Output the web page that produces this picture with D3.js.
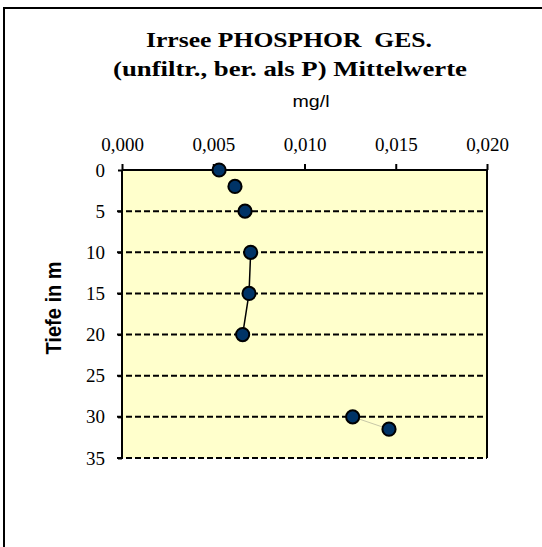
<!DOCTYPE html>
<html>
<head>
<meta charset="utf-8">
<script src="https://cdn.jsdelivr.net/npm/d3@7"></script>
<style>
  body { margin: 0; background: #fff; }
  svg { display: block; }
</style>
</head>
<body>
<script>
// Irrsee Phosphor gesamt, Mittelwerte je Tiefe
const depths = [0, 2, 5, 10, 15, 20, 30, 31.5];
const values = [0.00532, 0.00619, 0.00674, 0.00705, 0.00696, 0.00661, 0.01264, 0.01463];
// which neighbouring points are joined by a line
const solidLink = [10, 15, 20];
const lightLink = [30, 31.5];
const xTicks = [0, 0.005, 0.010, 0.015, 0.020];
const yTicks = [0, 5, 10, 15, 20, 25, 30, 35];
const titleLines = ["Irrsee PHOSPHOR  GES.", "(unfiltr., ber. als P) Mittelwerte"];
const unitLabel = "mg/l";
const yLabel = "Tiefe in m";

const W = 542, H = 547;
const svg = d3.select("body").append("svg").attr("width", W).attr("height", H);

// outer chart frame (cut off right and bottom)
svg.append("path")
  .attr("d", "M4," + H + " L4,8 L" + W + ",8")
  .attr("fill", "none").attr("stroke", "#000").attr("stroke-width", 2);

const x = d3.scaleLinear().domain([0, 0.02]).range([122, 487]);
const y = d3.scaleLinear().domain([0, 35]).range([170, 458]);

const pts = depths.map((d, i) => ({depth: d, val: values[i]}));

// plot background
svg.append("rect")
  .attr("x", x(0)).attr("y", y(0))
  .attr("width", x(0.02) - x(0)).attr("height", y(35) - y(0))
  .attr("fill", "#ffffcc");

// horizontal dashed grid
svg.append("g").selectAll("line")
  .data(yTicks.filter(t => t > 0))
  .join("line")
  .attr("x1", x(0) - 5).attr("x2", x(0.02))
  .attr("y1", d => y(d)).attr("y2", d => y(d))
  .attr("stroke", "#000").attr("stroke-width", 2)
  .attr("stroke-dasharray", "6,3");

// y axis
const yAxis = svg.append("g")
  .attr("transform", "translate(" + x(0) + ",0)")
  .call(d3.axisLeft(y).tickValues(yTicks).tickSize(4).tickPadding(13).tickFormat(d3.format("d")));
yAxis.select(".domain").attr("stroke-width", 2).attr("d", "M0," + y(0) + "V" + y(35));
yAxis.selectAll(".tick line").attr("stroke-width", 2);
yAxis.selectAll("text")
  .attr("font-family", "'Liberation Serif', 'Times New Roman', serif")
  .attr("font-size", 19).attr("fill", "#000");

// x axis on top
const xAxis = svg.append("g")
  .attr("transform", "translate(0," + y(0) + ")")
  .call(d3.axisTop(x).tickValues(xTicks).tickSize(6).tickPadding(13)
    .tickFormat(d => d3.format(".3f")(d).replace(".", ",")));
xAxis.select(".domain").attr("stroke-width", 2).attr("d", "M" + x(0) + ",0H" + x(0.02));
xAxis.selectAll(".tick line").attr("stroke-width", 2);
xAxis.selectAll("text")
  .attr("font-family", "'Liberation Serif', 'Times New Roman', serif")
  .attr("font-size", 19).attr("fill", "#000");

// right border
svg.append("line")
  .attr("x1", x(0.02)).attr("x2", x(0.02))
  .attr("y1", y(0)).attr("y2", y(35))
  .attr("stroke", "#000").attr("stroke-width", 2);

// lines
const line = d3.line().x(d => x(d.val)).y(d => y(d.depth));
svg.append("path")
  .datum(pts.filter(p => solidLink.includes(p.depth)))
  .attr("d", line)
  .attr("fill", "none").attr("stroke", "#000").attr("stroke-width", 1.5);
svg.append("path")
  .datum(pts.filter(p => lightLink.includes(p.depth)))
  .attr("d", line)
  .attr("fill", "none").attr("stroke", "#c8c8a8").attr("stroke-width", 1);

// markers
svg.append("g").selectAll("circle")
  .data(pts)
  .join("circle")
  .attr("cx", d => x(d.val)).attr("cy", d => y(d.depth))
  .attr("r", 6.6)
  .attr("fill", "#003366").attr("stroke", "#000").attr("stroke-width", 2);

// titles
const title = svg.append("g")
  .attr("font-family", "'Liberation Serif', 'Times New Roman', serif")
  .attr("font-weight", "bold").attr("font-size", 22)
  .attr("text-anchor", "middle");
title.append("text").attr("x", 289).attr("y", 47)
  .attr("xml:space", "preserve").style("white-space", "pre")
  .attr("textLength", 286).attr("lengthAdjust", "spacingAndGlyphs")
  .text(titleLines[0]);
title.append("text").attr("x", 290).attr("y", 76)
  .attr("textLength", 354).attr("lengthAdjust", "spacingAndGlyphs")
  .text(titleLines[1]);

svg.append("text")
  .attr("x", 311).attr("y", 107)
  .attr("text-anchor", "middle")
  .attr("font-family", "'Liberation Sans', Arial, sans-serif")
  .attr("font-size", 16)
  .attr("textLength", 37).attr("lengthAdjust", "spacingAndGlyphs")
  .text(unitLabel);

svg.append("text")
  .attr("transform", "translate(61,308) rotate(-90)")
  .attr("text-anchor", "middle")
  .attr("font-family", "'Liberation Sans', Arial, sans-serif")
  .attr("font-weight", "bold").attr("font-size", 22)
  .attr("textLength", 93).attr("lengthAdjust", "spacingAndGlyphs")
  .text(yLabel);
</script>
</body>
</html>
